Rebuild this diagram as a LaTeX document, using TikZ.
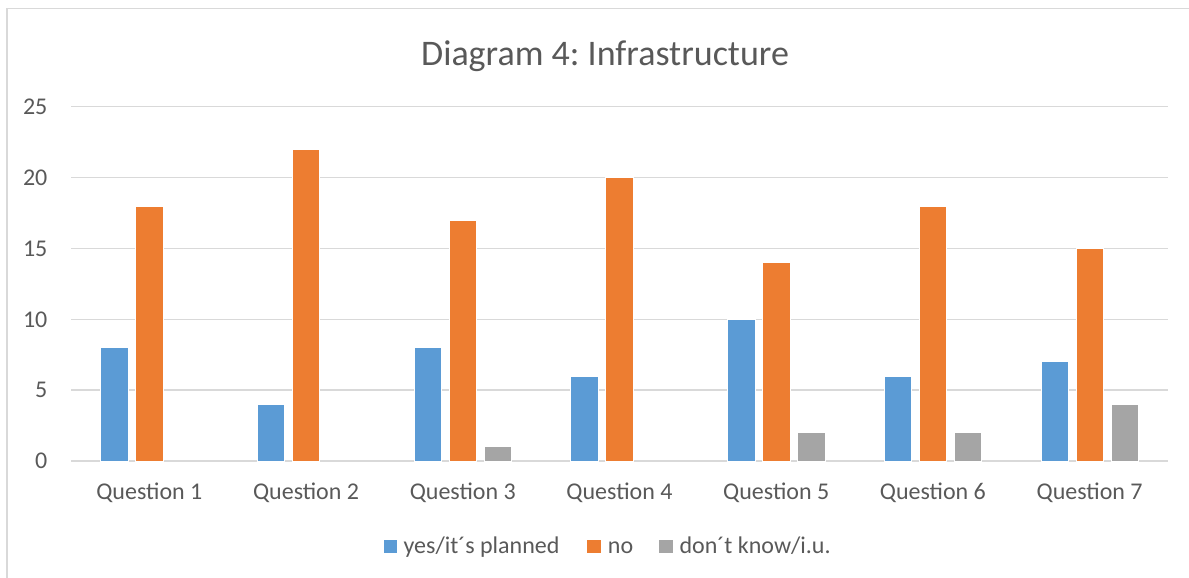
\documentclass[tikz,border=0pt]{standalone}
\usepackage{fontspec}
\setmainfont{Carlito}
\usetikzlibrary{positioning}
\frenchspacing

\tikzset{every picture/.style={line width=0.9pt}}
\tikzset{
  gridline/.style={draw={rgb, 255:red, 217; green, 217; blue, 217 }, line width=1.1pt},
  yesbar/.style={fill={rgb, 255:red, 91; green, 155; blue, 213 }, draw=white, line width=0.6pt},
  nobar/.style={fill={rgb, 255:red, 237; green, 125; blue, 49 }, draw=white, line width=0.6pt},
  dkbar/.style={fill={rgb, 255:red, 165; green, 165; blue, 165 }, draw=white, line width=0.6pt},
  charttext/.style={text={rgb, 255:red, 89; green, 89; blue, 89 }, font=\fontsize{18}{21}\selectfont, inner sep=0pt},
  titletext/.style={charttext, font=\fontsize{27}{32}\selectfont}
}

\begin{document}
\begin{tikzpicture}[x=0.75pt,y=0.75pt,yscale=-1,xscale=1]
\useasboundingbox (0,0) rectangle (1189,578);

%Shape: Chart frame
\draw [gridline] (7,578) -- (7,8.7) -- (1189,8.7) ;

%Straight Lines [grid 0]
\draw [gridline] (71,461) -- (1168,461) ;
%Straight Lines [grid 5]
\draw [gridline] (71,390.15) -- (1168,390.15) ;
%Straight Lines [grid 10]
\draw [gridline] (71,319.3) -- (1168,319.3) ;
%Straight Lines [grid 15]
\draw [gridline] (71,248.45) -- (1168,248.45) ;
%Straight Lines [grid 20]
\draw [gridline] (71,177.6) -- (1168,177.6) ;
%Straight Lines [grid 25]
\draw [gridline] (71,106.75) -- (1168,106.75) ;

%Shape: Rectangle [Question 1]
\draw [yesbar] (100.61,461) rectangle (128.11,347.64) ;
\draw [nobar] (135.61,461) rectangle (163.11,205.94) ;
%Shape: Rectangle [Question 2]
\draw [yesbar] (257.32,461) rectangle (284.82,404.32) ;
\draw [nobar] (292.32,461) rectangle (319.82,149.26) ;
%Shape: Rectangle [Question 3]
\draw [yesbar] (414.03,461) rectangle (441.53,347.64) ;
\draw [nobar] (449.03,461) rectangle (476.53,220.11) ;
\draw [dkbar] (484.03,461) rectangle (511.53,446.83) ;
%Shape: Rectangle [Question 4]
\draw [yesbar] (570.75,461) rectangle (598.25,375.98) ;
\draw [nobar] (605.75,461) rectangle (633.25,177.6) ;
%Shape: Rectangle [Question 5]
\draw [yesbar] (727.46,461) rectangle (754.96,319.3) ;
\draw [nobar] (762.46,461) rectangle (789.96,262.62) ;
\draw [dkbar] (797.46,461) rectangle (824.96,432.66) ;
%Shape: Rectangle [Question 6]
\draw [yesbar] (884.17,461) rectangle (911.67,375.98) ;
\draw [nobar] (919.17,461) rectangle (946.67,205.94) ;
\draw [dkbar] (954.17,461) rectangle (981.67,432.66) ;
%Shape: Rectangle [Question 7]
\draw [yesbar] (1040.89,461) rectangle (1068.39,361.81) ;
\draw [nobar] (1075.89,461) rectangle (1103.39,248.45) ;
\draw [dkbar] (1110.89,461) rectangle (1138.39,404.32) ;

% Text Node
\node [titletext, anchor=base] (title) at (605,65) {Diagram 4: Infrastructure};

% Text Node
\node [charttext, anchor=east] (ylab0) at (48,461) {0};
% Text Node
\node [charttext, anchor=east] (ylab5) at (48,390.15) {5};
% Text Node
\node [charttext, anchor=east] (ylab10) at (48,319.3) {10};
% Text Node
\node [charttext, anchor=east] (ylab15) at (48,248.45) {15};
% Text Node
\node [charttext, anchor=east] (ylab20) at (48,177.6) {20};
% Text Node
\node [charttext, anchor=east] (ylab25) at (48,106.75) {25};

% Text Node
\node [charttext, anchor=base] (q1) at (149.36,499.5) {Question 1};
% Text Node
\node [charttext, anchor=base] (q2) at (306.07,499.5) {Question 2};
% Text Node
\node [charttext, anchor=base] (q3) at (462.78,499.5) {Question 3};
% Text Node
\node [charttext, anchor=base] (q4) at (619.5,499.5) {Question 4};
% Text Node
\node [charttext, anchor=base] (q5) at (776.21,499.5) {Question 5};
% Text Node
\node [charttext, anchor=base] (q6) at (932.92,499.5) {Question 6};
% Text Node
\node [charttext, anchor=base] (q7) at (1089.64,499.5) {Question 7};

%Shape: Rectangle [legend keys]
\draw [yesbar, draw=none] (384,540) rectangle (397.3,553.3) ;
\draw [nobar, draw=none] (587.3,540) rectangle (600.7,553.3) ;
\draw [dkbar, draw=none] (659.3,540) rectangle (672.7,553.3) ;

% Text Node
\node [charttext, anchor=base west] (legyes) at (403,553) {yes/it´s planned};
% Text Node
\node [charttext, anchor=base west] (legno) at (607.3,553) {no};
% Text Node
\node [charttext, anchor=base west] (legdk) at (679,553) {don´t know/i.u.};

\end{tikzpicture}
\end{document}
